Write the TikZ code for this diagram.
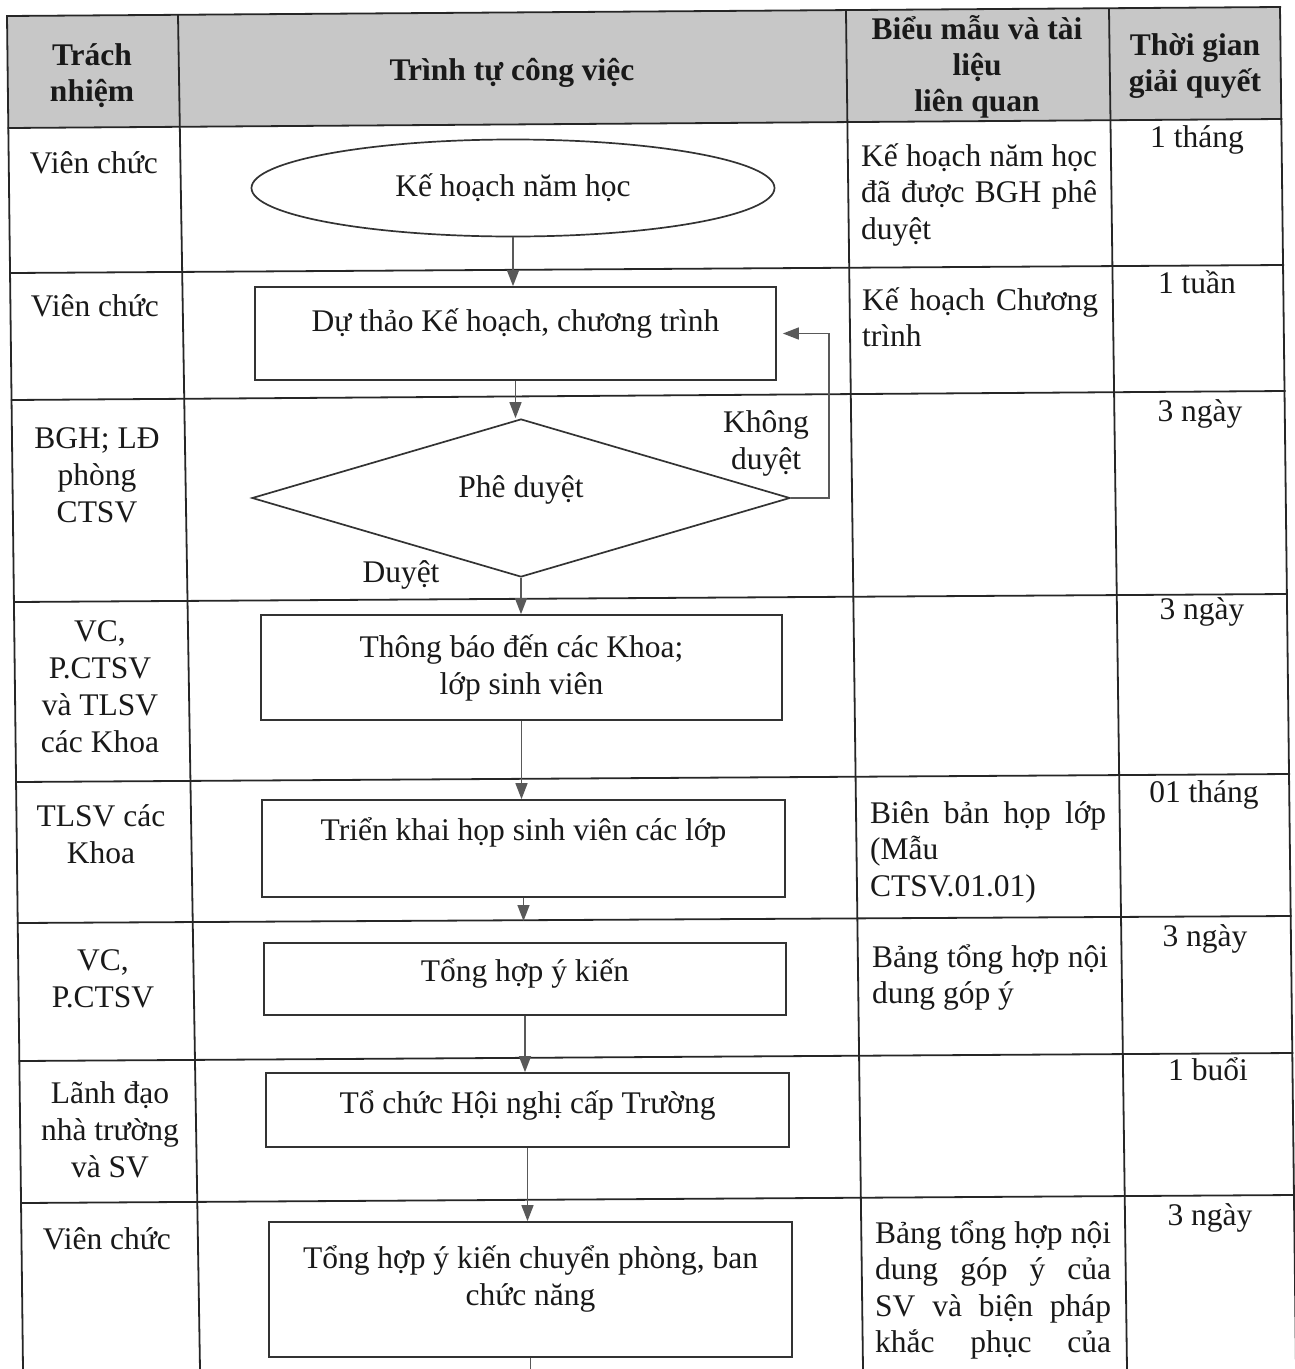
\documentclass[tikz,border=0pt]{standalone}
\usepackage{fontspec}
\setmainfont{Liberation Serif}
\usetikzlibrary{shapes.geometric, arrows.meta}
\tolerance=10000
\hbadness=10000
\newcommand{\nang}[2]{\raisebox{#1}[\height][\depth]{#2}}

\begin{document}
\begin{tikzpicture}[x=1pt,y=-1pt,
	every node/.style={inner sep=0pt, text=black!90, font=\fontsize{31.5}{37}\selectfont},
	ke/.style={line width=1.8pt, draw=black!85, line cap=rect},
	hop/.style={draw=black!80, line width=1.7pt, minimum width=521pt, align=center},
	muiten/.style={draw=black!65, line width=1.5pt, -{Triangle[width=12pt,length=16pt]}},
	noi/.style={draw=black!65, line width=1.5pt},
	tieude/.style={anchor=base, text width=250pt, align=flush center, font=\bfseries\fontsize{31.5}{36}\selectfont},
	giua/.style={anchor=base, text width=160pt, align=flush center},
	bieumau/.style={anchor=base west, text width=236pt, align=justify, font=\fontsize{31.5}{36.5}\selectfont}]

%\draw[help lines] (0,0) grid[step=100] (1295,1369);

	\useasboundingbox (0,0) rectangle (1295,1369);
	\clip (0,0) rectangle (1295,1369);

	\fill[black!22] (7,16) -- (1280,7) -- (1281,119) -- (8,128) -- cycle;%nen tieu de
	\foreach \xt/\yt/\xd in {7/16/23, 178/15/200, 846/12/863, 1109/9/1127, 1280/7/1296}
	\draw[ke] (\xt,\yt) -- (\xd,1369);%duong doc
	\foreach \yt/\yp in {16/7, 128/119, 273/265, 400/391, 602/594, 782/774, 923/916, 1061/1053, 1203/1195}
	\draw[ke] ({7+0.0117*\yt},\yt) -- ({1280+0.0117*\yt},\yp);%duong ngang

	\node[tieude] (hdtn) at (92,65) {Trách\\nhiệm};
	\node[tieude, text width=400pt] (hdtt) at (512,80) {Trình tự công việc};
	\node[tieude] (hdbm) at (977,39) {Biểu mẫu và tài\\liệu\\liên quan};
	\node[tieude] (hdtg) at (1195,55) {Thời gian\\giải quyết};

	\node[giua] (tn1) at (94,173) {Viên chức};
	\node[giua] (tn2) at (95,316) {Viên chức};
	\node[giua] (tn3) at (97,448) {BGH; LĐ\\phòng\\CTSV};
	\node[giua] (tn4) at (100,641) {VC,\\P.CTSV\\và TLSV\\các Khoa};
	\node[giua] (tn5) at (101,826) {TLSV các\\Khoa};
	\node[giua] (tn6) at (103,970) {VC,\\P.CTSV};
	\node[giua] (tn7) at (110,1103) {Lãnh đạo\\nhà trường\\và SV};
	\node[giua] (tn8) at (107,1249) {Viên chức};

	\node[draw=black!80, line width=1.7pt, ellipse, minimum width=523pt, minimum height=97pt] (khnh) at (513,188) {Kế hoạch năm học};%bat dau
	\node[hop, minimum height=93pt] (dt) at (515.5,333.5) {\nang{10pt}{Dự thảo Kế hoạch, chương trình}};
	\node[draw=black!80, line width=1.7pt, diamond, minimum width=538pt, minimum height=158pt] (pd) at (521,498) {\nang{8pt}{Phê duyệt}};%re nhanh
	\node[hop, minimum height=105pt] (tb) at (521.5,667.5) {Thông báo đến các Khoa;\\lớp sinh viên};
	\node[hop, minimum height=97pt, minimum width=523pt] (tk) at (523.5,848.5) {\nang{16pt}{Triển khai họp sinh viên các lớp}};
	\node[hop, minimum height=72pt, minimum width=522pt] (th) at (525,979) {\nang{6pt}{Tổng hợp ý kiến}};
	\node[hop, minimum height=74pt, minimum width=523pt] (tc) at (527.5,1110) {\nang{5pt}{Tổ chức Hội nghị cấp Trường}};
	\node[hop, minimum height=135pt, minimum width=523pt, text depth=27pt] (tp) at (530.5,1289.5) {Tổng hợp ý kiến chuyển phòng, ban\\chức năng};

	\node[align=center] (lbkd) at (766,443) {Không\\duyệt};
	\node (lbd) at (401,575) {Duyệt};

	\draw[muiten] (khnh.south) -- (khnh.south |- dt.north);
	\draw[muiten] (dt.south) -- (dt.south |- pd.north);
	\draw[muiten] (pd.south) -- (pd.south |- tb.north);
	\draw[muiten] (tb.south) -- (tb.south |- tk.north);
	\coordinate (tkduoi) at (532,921);
	\draw[muiten] (tk.south) -- (tk.south |- tkduoi);
	\draw[muiten] (th.south) -- (th.south |- tc.north);
	\draw[muiten] (tc.south) -- (tc.south |- tp.north);
	\coordinate (tpduoi) at (530,1380);
	\draw[noi] (tp.south) -- (tp.south |- tpduoi);
	\coordinate (vong) at (829,0);
	\draw[muiten, shorten >=6pt] (pd.east) -- (pd.east -| vong) |- (dt.east);%khong duyet

	\node[bieumau] (bm1) at (861,166) {Kế hoạch năm học\linebreak đã được BGH phê\linebreak duyệt};
	\node[bieumau] (bm2) at (862,310) {Kế hoạch Chương\linebreak trình};
	\node[bieumau] (bm5) at (870,823) {Biên bản họp lớp\linebreak (Mẫu\linebreak CTSV.01.01)};
	\node[bieumau] (bm6) at (872,967) {Bảng tổng hợp nội\linebreak dung góp ý};
	\node[bieumau] (bm8) at (875,1243) {Bảng tổng hợp nội\linebreak dung góp ý của\linebreak SV và biện pháp\linebreak khắc\hfill phục\hfill của};

	\node[giua] (tg1) at (1197,147) {1 tháng};
	\node[giua] (tg2) at (1197,293) {1 tuần};
	\node[giua] (tg3) at (1200,421) {3 ngày};
	\node[giua] (tg4) at (1202,619) {3 ngày};
	\node[giua] (tg5) at (1204,802) {01 tháng};
	\node[giua] (tg6) at (1205,946) {3 ngày};
	\node[giua] (tg7) at (1208,1080) {1 buổi};
	\node[giua] (tg8) at (1210,1225) {3 ngày};
\end{tikzpicture}
\end{document}
